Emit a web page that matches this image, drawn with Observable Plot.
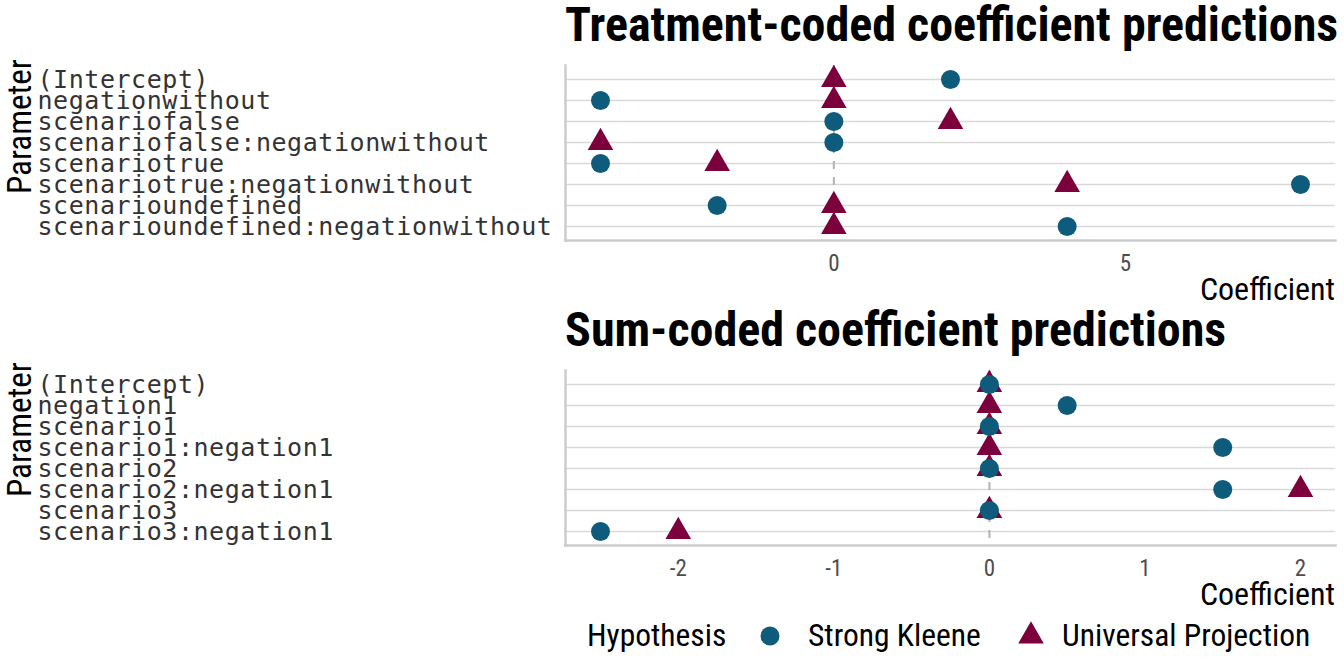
<!DOCTYPE html>
<html><head><meta charset="utf-8">
<script src="https://cdn.jsdelivr.net/npm/d3@7"></script>
<script src="https://cdn.jsdelivr.net/npm/@observablehq/plot@0.6"></script>
<style>
body{margin:0;background:#fff;}
#wrap{position:relative;width:1344px;height:672px;overflow:hidden;font-family:"Roboto Condensed","Liberation Sans Narrow","Roboto",sans-serif;}
.title{position:absolute;left:565px;font-weight:bold;font-size:48px;line-height:1;white-space:nowrap;color:#000;}
.ylab{position:absolute;font-size:33px;line-height:1;white-space:nowrap;color:#000;transform-origin:left top;}
.xlab{position:absolute;right:9px;font-size:32px;line-height:1;white-space:nowrap;color:#000;}
.panel{position:absolute;left:0;}
.panel [aria-label="y-axis tick label"] text{letter-spacing:0.55px;}
.leg{position:absolute;font-size:31.5px;line-height:1;white-space:nowrap;color:#000;}
</style></head>
<body><div id="wrap"></div>
<script>
const treatParams = ["(Intercept)","negationwithout","scenariofalse","scenariofalse:negationwithout","scenariotrue","scenariotrue:negationwithout","scenarioundefined","scenarioundefined:negationwithout"];
const treatSK = [2,-4,0,0,-4,8,-2,4];
const treatUP = [0,0,2,-4,-2,4,0,0];
const treatTicks = [0,5];

const sumParams = ["(Intercept)","negation1","scenario1","scenario1:negation1","scenario2","scenario2:negation1","scenario3","scenario3:negation1"];
const sumSK = [0,0.5,0,1.5,0,1.5,0,-2.5];
const sumUP = [0,0,0,0,0,2,0,-2];
const sumTicks = [-2,-1,0,1,2];

const hypotheses = ["Strong Kleene","Universal Projection"];
const hypColors = ["#0e5b7b","#7b003b"];
const hypSymbols = ["circle","triangle"];

const titles = ["Treatment-coded coefficient predictions","Sum-coded coefficient predictions"];

const wrap = document.getElementById("wrap");
const cond = '"Roboto Condensed","Liberation Sans Narrow","Roboto",sans-serif';
const mono = '"DejaVu Sans Mono",monospace';

function panel(params, sk, up, ticks, top, mTop, title, titleTop, ylabTop) {
  const rows = [];
  params.forEach((p,i) => { rows.push({param:p, value:up[i], hyp:hypotheses[1]}); });
  params.forEach((p,i) => { rows.push({param:p, value:sk[i], hyp:hypotheses[0]}); });
  const ext = d3.extent(rows, d => d.value);
  const pad = (ext[1]-ext[0])*0.05;
  const dom = [ext[0]-pad, ext[1]+pad];
  const H = 300, mBottom = H - mTop - 175;
  const chart = Plot.plot({
    width: 1344, height: H,
    marginLeft: 565, marginRight: 9, marginTop: mTop, marginBottom: mBottom,
    style: {background: "transparent", fontFamily: cond, overflow: "visible"},
    x: {domain: dom},
    y: {type: "point", domain: params, padding: 0.6},
    symbol: {domain: hypotheses, range: hypSymbols},
    color: {domain: hypotheses, range: hypColors},
    marks: [
      Plot.gridY({stroke: "#d9d9d9", strokeOpacity: 1, strokeWidth: 1.3}),
      Plot.ruleX([0], {stroke: "#b3b3b3", strokeWidth: 2, strokeDasharray: "8,8"}),
      Plot.frame({anchor: "left", stroke: "#cccccc", strokeWidth: 2.5}),
      Plot.frame({anchor: "bottom", stroke: "#cccccc", strokeWidth: 2.5}),
      Plot.axisX({ticks: ticks, tickSize: 0, tickPadding: 14, fontSize: 23, fill: "#4d4d4d", label: null, tickFormat: d => String(d)}),
      Plot.axisY({tickSize: 0, tickPadding: 0, textAnchor: "start", dx: -528, fontSize: 25, fontFamily: mono, fill: "#333333", label: null}),
      Plot.dot(rows.filter(d => d.hyp === hypotheses[1]), {x: "value", y: "param", symbol: "hyp", fill: "hyp", r: 9.5}),
      Plot.dot(rows.filter(d => d.hyp === hypotheses[0]), {x: "value", y: "param", symbol: "hyp", fill: "hyp", r: 9.5})
    ]
  });
  chart.classList.add("panel");
  chart.style.top = top + "px";
  wrap.appendChild(chart);
  const t = document.createElement("div");
  t.className = "title"; t.textContent = title; t.style.top = titleTop + "px";
  wrap.appendChild(t);
  const yl = document.createElement("div");
  yl.className = "ylab"; yl.textContent = "Parameter";
  yl.style.left = "3px"; yl.style.top = ylabTop + "px";
  yl.style.transform = "rotate(-90deg)";
  wrap.appendChild(yl);
  const xl = document.createElement("div");
  xl.className = "xlab"; xl.textContent = "Coefficient";
  xl.style.top = (top + mTop + 175 + 33) + "px";
  wrap.appendChild(xl);
}

panel(treatParams, treatSK, treatUP, treatTicks, 0, 65, titles[0], 1, 194);
panel(sumParams, sumSK, sumUP, sumTicks, 300, 70, titles[1], 306, 497);

// legend
function legText(txt, left) {
  const s = document.createElement("div");
  s.className = "leg"; s.textContent = txt;
  s.style.left = left + "px"; s.style.top = "620px";
  wrap.appendChild(s);
}
legText("Hypothesis", 587);
const legSymX = [770, 1031];
const legTextX = [808, 1062];
hypotheses.forEach((h,i) => {
  const sym = d3.symbol(i === 0 ? d3.symbolCircle : d3.symbolTriangle, Math.PI*9.5*9.5)();
  const s = d3.create("svg").attr("width", 30).attr("height", 30)
    .style("position", "absolute").style("left", (legSymX[i]-15) + "px").style("top", (636-15) + "px");
  s.append("path").attr("d", sym).attr("transform", "translate(15,15)").attr("fill", hypColors[i]);
  wrap.appendChild(s.node());
  legText(h, legTextX[i]);
});
</script>
</body></html>
